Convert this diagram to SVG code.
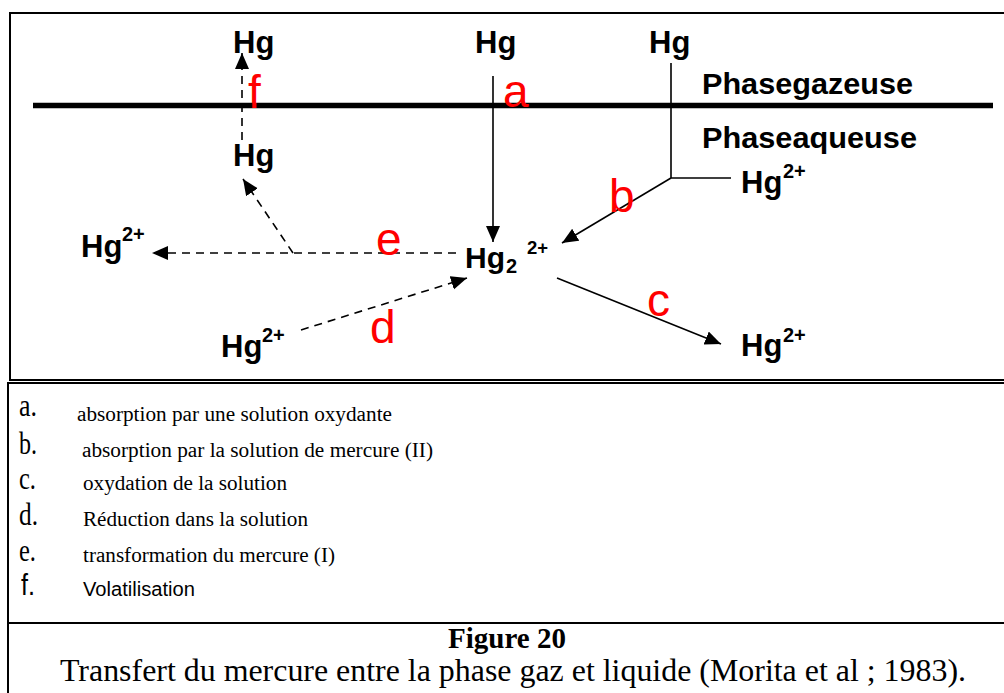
<svg xmlns="http://www.w3.org/2000/svg" width="1004" height="693" viewBox="0 0 1004 693">
<style>
.frame{fill:none;stroke:#000;stroke-width:2}
.hg{font-family:"Liberation Sans",Arial,sans-serif;font-weight:bold;font-size:31px;fill:#000}
.sup{font-family:"Liberation Sans",Arial,sans-serif;font-weight:bold;font-size:20px;fill:#000}
.phase{font-family:"Liberation Sans",Arial,sans-serif;font-weight:bold;font-size:29px;fill:#000}
.lbl{font-family:"Liberation Sans",Arial,sans-serif;font-size:46px;fill:#ff0000}
.solid{fill:none;stroke:#000;stroke-width:1.6}
.dash{fill:none;stroke:#000;stroke-width:1.6;stroke-dasharray:8 6}
.key{font-family:"Liberation Serif","Times New Roman",serif;font-size:31px;fill:#000}
.keys{font-family:"Liberation Sans",Arial,sans-serif;font-size:29px;fill:#000}
.leg{font-family:"Liberation Serif","Times New Roman",serif;font-size:20px;fill:#000}
.legs{font-family:"Liberation Sans",Arial,sans-serif;font-size:20px;fill:#000}
.fig{font-family:"Liberation Serif","Times New Roman",serif;font-weight:bold;font-size:29px;fill:#000}
.cap{font-family:"Liberation Serif","Times New Roman",serif;font-size:31px;fill:#000}
</style>
<defs>
<marker id="ah" markerUnits="userSpaceOnUse" markerWidth="17" markerHeight="15" refX="16" refY="7" orient="auto" viewBox="0 0 17 15">
<path d="M0,0 L16,7 L0,14 z" fill="#000"/>
</marker>
</defs>
<rect width="1004" height="693" fill="#fff"/>
<g id="frames">
<path class="frame" d="M1004,13 H10 V380 H1004"/>
<path class="frame" d="M1004,383 H8 V693"/>
<path class="frame" d="M8,623 H1004"/>
</g>
<g id="interface">
<line x1="33" y1="105.5" x2="993" y2="105.5" stroke="#000" stroke-width="5.5"/>
<text class="phase" x="702" y="94" textLength="211" lengthAdjust="spacingAndGlyphs">Phasegazeuse</text>
<text class="phase" x="702" y="148" textLength="215" lengthAdjust="spacingAndGlyphs">Phaseaqueuse</text>
</g>
<g id="connectors">
<line class="solid" x1="493" y1="76" x2="493" y2="242" marker-end="url(#ah)"/>
<polyline class="solid" points="671,63 671,178 731,178"/>
<line class="solid" x1="671" y1="178" x2="562" y2="243" marker-end="url(#ah)"/>
<line class="solid" x1="557" y1="278" x2="721" y2="344" marker-end="url(#ah)"/>
<line class="dash" x1="301" y1="330" x2="467" y2="278" marker-end="url(#ah)"/>
<line class="dash" x1="456" y1="253" x2="152" y2="253" marker-end="url(#ah)"/>
<line class="dash" x1="293" y1="253" x2="243" y2="179" marker-end="url(#ah)"/>
<line class="dash" x1="242" y1="140" x2="242" y2="53" marker-end="url(#ah)"/>
<text class="lbl" x="503" y="107">a</text>
<text class="lbl" x="609" y="212">b</text>
<text class="lbl" x="647" y="316">c</text>
<text class="lbl" x="370" y="343">d</text>
<text class="lbl" x="376" y="255">e</text>
<text class="lbl" x="248" y="108">f</text>
</g>
<g id="hg-gas-left"><text class="hg" x="233" y="53">Hg</text></g>
<g id="hg-gas-mid"><text class="hg" x="475" y="53">Hg</text></g>
<g id="hg-gas-right"><text class="hg" x="649" y="53">Hg</text></g>
<g id="hg-aq"><text class="hg" x="233" y="166">Hg</text></g>
<g id="hg2-right"><text class="hg" x="741" y="193">Hg</text><text class="sup" x="783" y="178">2+</text></g>
<g id="hg2-left"><text class="hg" x="81" y="257">Hg</text><text class="sup" x="122" y="241">2+</text></g>
<g id="hg2-2"><text class="hg" x="465" y="268" style="font-size:30px">Hg</text><text class="sup" x="506" y="273">2</text><text class="sup" x="527" y="254" style="font-size:18.5px">2+</text></g>
<g id="hg2-bottom-left"><text class="hg" x="221" y="357">Hg</text><text class="sup" x="262" y="342">2+</text></g>
<g id="hg2-bottom-right"><text class="hg" x="741" y="356">Hg</text><text class="sup" x="783" y="342">2+</text></g>
<g id="legend">
<text class="key" x="19" y="416" textLength="18" lengthAdjust="spacingAndGlyphs">a.</text>
<text class="leg" x="77" y="421" textLength="315" lengthAdjust="spacingAndGlyphs">absorption par une solution oxydante</text>
<text class="key" x="19" y="454" textLength="18" lengthAdjust="spacingAndGlyphs">b.</text>
<text class="leg" x="82" y="457" textLength="351" lengthAdjust="spacingAndGlyphs">absorption par la solution de mercure (II)</text>
<text class="key" x="19" y="489" textLength="17" lengthAdjust="spacingAndGlyphs">c.</text>
<text class="leg" x="83" y="490" textLength="204" lengthAdjust="spacingAndGlyphs">oxydation de la solution</text>
<text class="key" x="19" y="525" textLength="19" lengthAdjust="spacingAndGlyphs">d.</text>
<text class="leg" x="83" y="526" textLength="225" lengthAdjust="spacingAndGlyphs">Réduction dans la solution</text>
<text class="key" x="19" y="561" textLength="17" lengthAdjust="spacingAndGlyphs">e.</text>
<text class="leg" x="83" y="562" textLength="252" lengthAdjust="spacingAndGlyphs">transformation du mercure (I)</text>
<text class="keys" x="21" y="595" textLength="14" lengthAdjust="spacingAndGlyphs">f.</text>
<text class="legs" x="83" y="596" textLength="112" lengthAdjust="spacingAndGlyphs">Volatilisation</text>
</g>
<g id="caption">
<text class="fig" x="448" y="648" textLength="118" lengthAdjust="spacingAndGlyphs">Figure 20</text>
<text class="cap" x="60" y="681" textLength="906" lengthAdjust="spacingAndGlyphs">Transfert du mercure entre la phase gaz et liquide (Morita et al ; 1983).</text>
</g>
</svg>
